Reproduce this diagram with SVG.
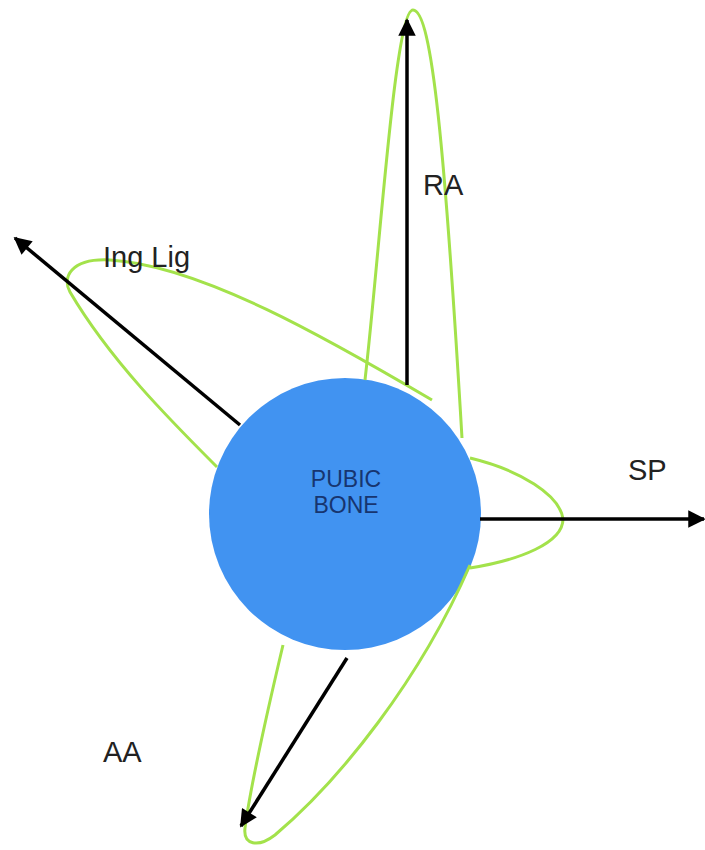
<svg xmlns="http://www.w3.org/2000/svg" width="705" height="850" viewBox="0 0 705 850">
  <defs>
    <marker id="ah" viewBox="0 0 10 10" refX="9" refY="5" markerWidth="5.5" markerHeight="5" markerUnits="strokeWidth" orient="auto">
      <path d="M0,0 L10,5 L0,10 z" fill="#000"/>
    </marker>
    <style>
      .loop { fill: none; stroke: #a3e24b; stroke-width: 3; stroke-linejoin: round; }
      .arrow { fill: none; stroke: #000; stroke-width: 3.5; marker-end: url(#ah); }
      .lbl { font-family: "Liberation Sans", Arial, sans-serif; font-size: 29px; fill: #222; }
      .inner { font-family: "Liberation Sans", Arial, sans-serif; font-size: 23px; fill: #17356f; text-anchor: middle; }
    </style>
  </defs>
  <rect width="705" height="850" fill="#fff"/>

  <g id="pubic-bone">
    <circle cx="345" cy="514" r="136" fill="#4193f1"/>
    <text class="inner" x="346" y="487">PUBIC</text>
    <text class="inner" x="346" y="513">BONE</text>
  </g>

  <g id="loops">
    <path id="loop-ra" class="loop" d="M365,380 C380,250 395,10 413,10 C432,10 445,150 462,438"/>
    <path id="loop-ing" class="loop" d="M432,400 C330,340 200,265 110,260 C70,258 62,278 70,292 C110,360 170,420 217,467"/>
    <path id="loop-sp" class="loop" d="M470,458 C520,470 560,495 563,519 C563,543 520,560 470,568"/>
    <path id="loop-aa" class="loop" d="M283,645 C270,700 250,790 245,828 C243,845 258,848 275,835 C340,780 420,680 470,565"/>
  </g>

  <g id="connectors">
    <line class="arrow" x1="407" y1="385" x2="407" y2="20"/>
    <line class="arrow" x1="240" y1="425" x2="15" y2="238"/>
    <line class="arrow" x1="480" y1="519" x2="704" y2="519"/>
    <line class="arrow" x1="347" y1="658" x2="241" y2="826"/>
  </g>

  <g id="ra"><text class="lbl" x="423" y="195">RA</text></g>
  <g id="ing-lig"><text class="lbl" x="103" y="267">Ing Lig</text></g>
  <g id="sp"><text class="lbl" x="628" y="480">SP</text></g>
  <g id="aa"><text class="lbl" x="103" y="762">AA</text></g>
</svg>
